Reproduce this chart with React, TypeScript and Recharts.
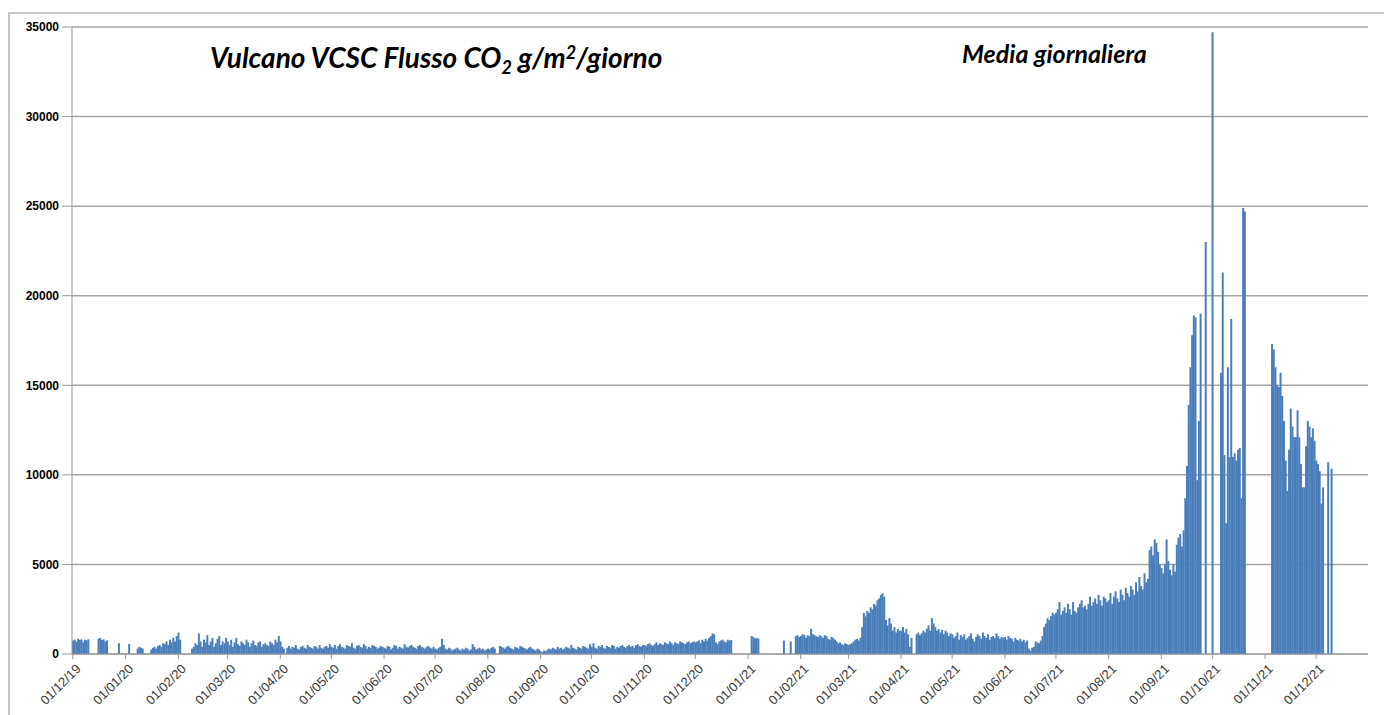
import React from 'react';
import { BarChart, Bar, XAxis, YAxis, CartesianGrid } from 'recharts';

// daily mean CO2 flux (g/m2/day), one array per month, null = no data
const dec19 = [750, 800, 700, 850, 780, 820, 650, 800, 760, 820, null, null, null, null, null, 850, 900, 780, 820, 700, 760, null, null, null, null, null, null, 600, null, null, null];
const jan20 = [null, null, 550, null, null, null, null, 300, 400, 350, 300, null, null, null, null, 250, 350, 400, 300, 450, 500, 400, 600, 550, 700, 500, 800, 650, 900, 700, 1000];
const feb20 = [1200, 800, null, null, null, null, null, null, 300, 400, 600, 500, 1150, 700, 400, 800, 650, 1050, 500, 700, 900, 400, 600, 850, 1000, 500, 700, 600, 900];
const mar20 = [700, 500, 800, 400, 650, 900, 550, 450, 700, 600, 500, 800, 650, 400, 600, 750, 500, 450, 650, 700, 400, 550, 600, 500, 450, 700, 600, 500, 800, 650, 1000];
const apr20 = [700, 400, 300, null, 350, 450, 300, 400, 350, 500, 300, 250, 400, 450, 350, 300, 500, 400, 350, 300, 450, 400, 300, 500, 350, 300, 400, 450, 350, 550];
const may20 = [400, 350, 500, 300, 450, 550, 400, 350, 300, 500, 450, 400, 600, 350, 300, 450, 500, 400, 350, 550, 450, 300, 400, 350, 500, 450, 400, 300, 350, 450, 400];
const jun20 = [350, 300, 450, 400, 250, 350, 500, 450, 300, 400, 350, 300, 550, 400, 350, 450, 500, 400, 350, 300, 450, 500, 400, 350, 300, 400, 450, 350, 300, 400];
const jul20 = [300, 250, 350, 400, 850, 500, 300, 250, 350, 300, 200, 250, 300, 350, 250, 200, 300, 250, 350, 300, 200, 250, 550, 400, 250, 300, 350, 250, 300, 200, 250];
const aug20 = [300, 250, 350, 400, 300, null, null, 450, 400, 350, 300, 400, 450, 350, 300, 250, 400, 350, 300, 450, 400, 350, 300, 250, 350, 400, 300, 250, 200, 300, 250];
const sep20 = [150, 100, 200, 150, 250, 300, 250, 350, 300, 250, 400, 300, 350, 250, 300, 400, 350, 300, 500, 350, 300, 250, 400, 350, 300, 450, 400, 350, 300, 550];
const oct20 = [400, 600, 350, 300, 450, 400, 500, 350, 300, 450, 400, 350, 500, 450, 300, 400, 350, 450, 500, 400, 350, 450, 500, 400, 450, 350, 500, 550, 450, 400, 500];
const nov20 = [500, 450, 550, 600, 500, 450, 550, 650, 500, 600, 550, 500, 650, 600, 550, 700, 600, 500, 650, 600, 550, 700, 650, 600, 550, 650, 700, 600, 650, 700];
const dec20 = [650, 700, 750, 600, 800, 700, 850, 750, 900, 1000, 1150, 1100, 650, 550, 700, 750, 800, 700, 650, 800, 750, 780];
const jan21 = [null, null, 1000, 950, 850, 900, 850, null, null, null, null, null, null, null, null, null, null, null, null, null, null, 750, null, null, null, 700, null, null, 1000, 1050, 950];
const feb21 = [1000, 1100, 1050, 900, 1050, 1000, 1400, 1100, 1050, 1000, 950, 1050, 1000, 900, 1050, 1000, 850, 800, 950, 900, 800, 700, 600, 650, 550, 500, 600, 550];
const mar21 = [500, 550, 600, 700, 800, 850, 750, 900, 1500, 2300, 2100, 2400, 2300, 2600, 2500, 2800, 2700, 3000, 3100, 3300, 3400, 3200, 1900, 1600, 2000, 1700, 1300, 1500, 1200, 1400, 1300];
const apr21 = [1300, 1500, 1200, 1400, 1100, 400, 900, null, null, 1100, 1200, 1050, 1150, 1300, 1200, 1400, 1600, 1300, 2000, 1700, 1500, 1300, 1400, 1200, 1350, 1100, 1300, 1200, 1000, 1150];
const may21 = [1100, 900, 1000, 1200, 800, 1050, 950, 1100, 800, 900, 1000, 1150, 850, 700, 950, 1100, 1000, 850, 1200, 1000, 900, 1100, 800, 950, 1000, 900, 1150, 1000, 850, 950, 900];
const jun21 = [950, 800, 1000, 900, 850, 700, 900, 800, 750, 850, 700, 800, 650, 750, 300, 200, 350, 400, 700, 650, 600, 750, 1000, 1500, 1700, 2000, 1900, 2100, 2300, 2200];
const jul21 = [2300, 2500, 2900, 2200, 2400, 2600, 2300, 2800, 2500, 2200, 2900, 2400, 2300, 2600, 2800, 3000, 2600, 2700, 2500, 2800, 3200, 2700, 2900, 3100, 2800, 3300, 3000, 2700, 3200, 3100, 2900];
const aug21 = [3000, 3400, 2800, 3200, 3500, 3100, 2900, 3600, 3300, 3000, 3700, 3400, 3200, 3800, 3600, 3300, 4000, 3500, 4300, 3800, 3600, 4500, 4000, 4200, 5800, 6000, 5500, 6400, 6200, 5700, 5000];
const sep21 = [4800, 4500, 5000, 6400, 5200, 4700, 4400, 5000, 4600, 6100, 6500, 6700, 6000, 6900, 8700, 10500, 13900, 16000, 17800, 18900, 18800, 9700, 13000, 19000, null, null, 23000, null, null, null];
const oct21 = [34700, null, null, null, null, 15700, 21300, 11100, 7300, 16000, 11000, 18700, 11000, 11200, 10800, 11400, 11500, 8700, 24900, 24700];
const nov21 = [null, null, null, null, 17300, 17000, 16000, 15000, 14900, 15700, 14400, 13000, 10800, 9100, 11400, 13700, 12700, 12100, 12100, 13600, 12100, 10600, 9300, 9300, 11600, 13000, 12700, 12100, 12600, 11900];
const dec21 = [10800, 10600, 10200, 8400, 9300, null, null, 10700, null, 10350];

const months: [number, number, (number | null)[]][] = [
  [2019, 11, dec19], [2020, 0, jan20], [2020, 1, feb20], [2020, 2, mar20], [2020, 3, apr20],
  [2020, 4, may20], [2020, 5, jun20], [2020, 6, jul20], [2020, 7, aug20], [2020, 8, sep20],
  [2020, 9, oct20], [2020, 10, nov20], [2020, 11, dec20], [2021, 0, jan21], [2021, 1, feb21],
  [2021, 2, mar21], [2021, 3, apr21], [2021, 4, may21], [2021, 5, jun21], [2021, 6, jul21],
  [2021, 7, aug21], [2021, 8, sep21], [2021, 9, oct21], [2021, 10, nov21], [2021, 11, dec21],
];

const yTicks = [0, 5000, 10000, 15000, 20000, 25000, 30000, 35000];
const monthTicks = [
  '01/12/19', '01/01/20', '01/02/20', '01/03/20', '01/04/20', '01/05/20', '01/06/20',
  '01/07/20', '01/08/20', '01/09/20', '01/10/20', '01/11/20', '01/12/20', '01/01/21',
  '01/02/21', '01/03/21', '01/04/21', '01/05/21', '01/06/21', '01/07/21', '01/08/21',
  '01/09/21', '01/10/21', '01/11/21', '01/12/21',
];

const pad = (n: number) => String(n).padStart(2, '0');

const data: { day: string; flux: number | null }[] = [];
months.forEach(([year, month, values]) => {
  const len = new Date(year, month + 1, 0).getDate();
  for (let i = 0; i < len; i++) {
    data.push({
      day: `${pad(i + 1)}/${pad(month + 1)}/${String(year).slice(2)}`,
      flux: values[i] ?? null,
    });
  }
});

const DateTick = ({ x, y, payload }: any) => (
  <g transform={`translate(${x + 3},${y + 3})`}>
    <text
      x={0}
      y={0}
      dy={8}
      textAnchor="end"
      transform="rotate(-45)"
      fontSize={13}
      fill="#3a3a3a"
      fontFamily="'Liberation Sans', Arial, sans-serif"
    >
      {payload.value}
    </text>
  </g>
);

const titleFont = "Lato, 'Open Sans', sans-serif";

export default function App() {
  return (
    <div style={{ position: 'absolute', left: 0, top: 0, width: 1384, height: 715, background: '#fff', overflow: 'hidden' }}>
      <div style={{ position: 'absolute', left: 8, top: 12, width: 1400, height: 720, borderLeft: '2px solid #c8c8c8', borderTop: '2px solid #c8c8c8' }} />
      <BarChart
        width={1384}
        height={715}
        data={data}
        barCategoryGap={0}
        margin={{ top: 27, right: 16, left: 12, bottom: 0 }}
      >
        <CartesianGrid vertical={false} stroke="#a6a6a6" strokeWidth={1.5} />
        <XAxis
          dataKey="day"
          ticks={monthTicks}
          interval={0}
          height={61}
          tick={<DateTick />}
          tickSize={5}
          stroke="#999"
        />
        <YAxis
          domain={[0, 35000]}
          ticks={yTicks}
          width={60}
          tickSize={10}
          tickMargin={3}
          stroke="#999"
          tick={{ fill: '#000', fontSize: 12, fontWeight: 700, fontFamily: "'Liberation Sans', Arial, sans-serif" }}
        />
        <Bar dataKey="flux" fill="#4a7ebb" isAnimationActive={false} />
      </BarChart>
      <div style={{ position: 'absolute', left: 210, top: 40, fontFamily: titleFont, fontStyle: 'italic', fontWeight: 700, fontSize: 28, lineHeight: '34px', color: '#000', whiteSpace: 'nowrap' }}>
        Vulcano VCSC Flusso CO<span style={{ fontSize: 18, position: 'relative', top: 6 }}>2</span> g/m<span style={{ fontSize: 18, position: 'relative', top: -9 }}>2</span>/giorno
      </div>
      <div style={{ position: 'absolute', left: 962, top: 38, fontFamily: titleFont, fontStyle: 'italic', fontWeight: 700, fontSize: 25, lineHeight: '30px', color: '#000', whiteSpace: 'nowrap' }}>
        Media giornaliera
      </div>
    </div>
  );
}
